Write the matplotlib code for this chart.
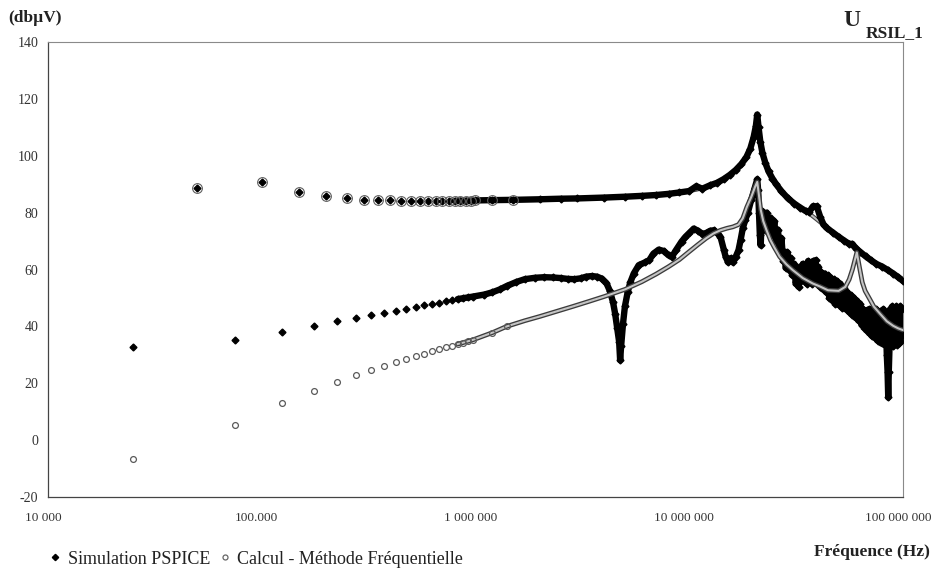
import numpy as np
import matplotlib
matplotlib.use("Agg")
import matplotlib.pyplot as plt
from matplotlib.lines import Line2D
from matplotlib.transforms import ScaledTranslation

plt.rcParams['font.family'] = ['Liberation Serif', 'DejaVu Serif']
plt.rcParams['axes.unicode_minus'] = False

# --- data (frequency in Hz, level in dBuV) ---

# upper curve: both methods lie on top of each other
upper_freq = [50e3, 100e3, 150e3, 200e3, 250e3, 300e3, 350e3, 400e3, 450e3, 500e3,
              550e3, 600e3, 650e3, 700e3, 750e3, 800e3, 850e3, 900e3, 950e3, 1000e3,
              1.2e6, 1.5e6, 2e6, 2.5e6, 3e6, 4e6, 5e6, 6e6, 7e6, 8e6, 9e6, 10e6,
              10.8e6, 11.5e6, 12.5e6, 13.5e6, 14.5e6, 15.5e6, 16.5e6, 17.5e6, 18.5e6,
              19.3e6, 20.0e6, 20.5e6, 20.8e6, 21.1e6, 21.5e6, 22.0e6, 22.7e6, 23.5e6,
              24.5e6, 25.5e6, 27e6, 29e6, 31e6, 33e6, 35e6, 36.5e6, 38e6, 39.5e6,
              41e6, 42.5e6, 44e6, 47e6, 50e6, 53e6, 56e6, 58e6, 60e6, 63e6, 67e6,
              71e6, 75e6, 80e6, 85e6, 90e6, 95e6, 100e6]
upper_calc = [88.7, 90.8, 87.1, 85.7, 85.0, 84.6, 84.4, 84.3, 84.2, 84.2,
              84.2, 84.1, 84.1, 84.1, 84.1, 84.1, 84.2, 84.2, 84.2, 84.3,
              84.4, 84.5, 84.7, 84.9, 85.0, 85.3, 85.6, 85.9, 86.2, 86.6, 87.1, 87.6,
              88.1, 88.6, 89.4, 90.5, 91.8, 93.3, 95.0, 97.0, 99.5,
              102.5, 106.5, 110.5, 114.0, 110.0, 105.0, 101.0, 97.5, 94.5,
              92.0, 90.0, 87.5, 85.0, 83.2, 81.8, 80.6, 79.6, 78.6, 77.6,
              76.6, 75.6, 74.6, 73.0, 71.5, 70.2, 69.0, 68.2, 67.4, 66.2, 64.6,
              63.2, 62.0, 61.0, 59.8, 58.6, 57.5, 56.5]
upper_spice = [88.7, 90.8, 87.1, 85.7, 85.0, 84.6, 84.4, 84.3, 84.2, 84.2,
               84.2, 84.1, 84.1, 84.1, 84.1, 84.1, 84.2, 84.2, 84.2, 84.3,
               84.4, 84.5, 84.7, 84.9, 85.0, 85.3, 85.6, 85.9, 86.2, 86.6, 87.1, 87.6,
               89.3, 88.4, 89.6, 90.5, 91.8, 93.3, 95.0, 97.0, 99.5,
               102.5, 106.5, 110.5, 114.5, 110.0, 105.0, 101.0, 97.5, 94.5,
               92.0, 90.0, 87.5, 85.0, 83.2, 81.8, 80.6, 80.4, 82.3, 82.2,
               78.5, 75.8, 74.6, 73.0, 71.5, 70.2, 69.0, 69.0, 67.4, 66.2, 64.6,
               63.2, 62.0, 61.0, 59.8, 58.6, 57.3, 56.0]

# lower curve, PSPICE simulation (above 22 MHz it is a noisy band,
# written here as alternating top / bottom readings)
lower_spice_freq = [25e3, 75e3, 125e3, 175e3, 225e3, 275e3, 325e3, 375e3, 425e3, 475e3,
                    525e3, 575e3, 625e3, 675e3, 725e3, 775e3, 825e3, 875e3, 925e3, 975e3,
                    1.1e6, 1.2e6, 1.3e6, 1.4e6, 1.55e6, 1.7e6, 1.9e6, 2.1e6, 2.3e6, 2.5e6,
                    2.7e6, 2.9e6, 3.1e6, 3.3e6, 3.5e6, 3.7e6, 3.9e6, 4.1e6, 4.25e6, 4.4e6,
                    4.5e6, 4.6e6, 4.7e6, 4.75e6, 4.8e6, 4.9e6, 5.0e6, 5.15e6, 5.3e6, 5.5e6,
                    5.8e6, 6.2e6, 6.5e6, 6.8e6, 7.2e6, 7.6e6, 8.0e6, 8.3e6, 8.7e6, 9.2e6,
                    9.6e6, 10.0e6, 10.5e6, 11.0e6, 11.5e6, 12.0e6, 12.5e6, 13.0e6, 13.5e6, 14.0e6,
                    14.5e6, 14.8e6, 15.2e6, 15.6e6, 16.0e6, 16.5e6, 17.0e6, 17.4e6, 17.8e6, 18.3e6,
                    18.8e6, 19.5e6, 20.2e6, 20.8e6, 21.0e6, 21.2e6, 21.4e6, 21.6e6, 21.8e6,
                    22.0e6, 22.5e6, 23.0e6, 23.5e6, 24.0e6, 24.5e6, 25.0e6, 25.5e6, 26.0e6, 26.5e6,
                    27.0e6, 27.5e6, 28.0e6, 28.3e6, 28.8e6, 29.3e6, 29.8e6, 30.3e6, 31.0e6, 31.5e6,
                    32.0e6, 32.5e6, 33.0e6, 33.5e6, 34.0e6, 34.5e6, 35.0e6, 35.5e6, 36.0e6, 36.5e6,
                    37.0e6, 37.5e6, 38.0e6, 38.5e6, 39.0e6, 39.6e6, 40.2e6, 40.8e6, 41.5e6, 42.2e6,
                    43.0e6, 43.7e6, 44.5e6, 45.2e6, 46.0e6, 46.8e6, 47.5e6, 48.3e6, 49.0e6, 50.0e6,
                    51.0e6, 52.0e6, 53.0e6, 54.0e6, 55.0e6, 56.0e6, 57.0e6, 58.0e6, 59.0e6, 60.0e6,
                    61.0e6, 62.0e6, 63.0e6, 64.0e6, 65.0e6, 66.0e6, 67.0e6, 68.0e6, 69.0e6, 70.0e6,
                    71.0e6, 72.0e6, 73.0e6, 74.0e6, 75.0e6, 76.0e6, 77.0e6, 78.0e6, 79.0e6, 80.0e6,
                    81.0e6, 82.0e6, 83.0e6, 84.0e6, 84.7e6, 85.3e6, 85.8e6, 86.5e6, 87.0e6, 88.0e6,
                    89.0e6, 90.0e6, 91.0e6, 92.0e6, 93.0e6, 94.0e6, 95.0e6, 96.0e6, 97.0e6, 98.0e6,
                    99.0e6, 100.0e6]
lower_spice = [32.7, 35.3, 38.1, 40.3, 42.0, 43.1, 44.1, 44.8, 45.4, 46.0,
               46.7, 47.4, 47.8, 48.3, 48.8, 49.2, 49.6, 49.9, 50.2, 50.5,
               51.2, 52.0, 53.0, 54.2, 55.6, 56.6, 57.1, 57.3, 57.2, 57.0,
               56.7, 56.6, 56.9, 57.5, 57.7, 57.5, 56.8, 55.2, 52.5, 48.5,
               44.5, 39.5, 34.5, 28.1, 33.0, 41.0, 47.0, 52.0, 55.5, 58.6,
               61.5, 62.5, 63.3, 65.6, 67.0, 66.5, 65.0, 64.5, 67.0, 69.8,
               71.5, 72.8, 74.4, 73.6, 72.6, 72.8, 73.6, 73.8, 73.0, 71.5,
               67.0, 64.5, 62.5, 64.0, 62.5, 64.5, 66.8, 70.5, 74.5, 77.5,
               80.0, 84.5, 88.5, 91.7, 88.0, 80.0, 72.0, 68.5, 78.0,
               80.5, 74.0, 80.0, 73.0, 78.0, 72.0, 77.0, 70.0, 74.0, 66.0,
               71.0, 63.0, 66.0, 60.5, 66.0, 60.0, 64.0, 58.0, 62.0, 55.0,
               59.0, 53.9, 61.0, 56.0, 62.0, 56.0, 61.0, 55.0, 63.0, 56.0,
               62.0, 55.0, 63.0, 56.0, 63.3, 55.0, 61.0, 54.0, 59.0, 53.0,
               58.6, 52.0, 58.0, 50.0, 57.0, 49.0, 56.5, 48.0, 56.0, 47.5,
               55.0, 46.5, 53.5, 46.0, 52.0, 45.0, 51.0, 44.0, 50.0, 43.0,
               49.0, 42.0, 48.0, 40.5, 46.0, 39.5, 45.5, 38.5, 46.0, 37.5,
               46.0, 36.5, 45.5, 36.0, 46.0, 35.0, 45.0, 34.5, 45.5, 34.0,
               46.0, 33.5, 44.0, 30.0, 24.0, 15.0, 24.0, 33.0, 46.0, 34.0,
               47.0, 33.0, 46.0, 34.0, 47.0, 33.5, 46.0, 34.0, 47.0, 35.0,
               46.0, 37.0]

# lower curve, frequency method
lower_calc_freq = [25e3, 75e3, 125e3, 175e3, 225e3, 275e3, 325e3, 375e3, 425e3, 475e3,
                   525e3, 575e3, 625e3, 675e3, 725e3, 775e3, 825e3, 875e3, 925e3, 975e3,
                   1.2e6, 1.4e6, 1.7e6, 2.0e6, 2.4e6, 2.85e6, 3.4e6, 4.0e6, 5.0e6, 6.0e6,
                   7e6, 8e6, 9e6, 10e6, 11e6, 12e6, 13e6, 14e6, 15e6, 16e6,
                   17.0e6, 17.8e6, 18.6e6, 19.5e6, 20.3e6, 20.8e6, 21.2e6, 21.6e6, 22.2e6, 23.0e6,
                   24e6, 25e6, 26.5e6, 28.5e6, 30.5e6, 34e6, 37.8e6, 41e6, 44.6e6, 50e6,
                   53.7e6, 56e6, 58e6, 60.8e6, 62.5e6, 64.5e6, 66.5e6, 70e6, 73e6, 78e6,
                   84e6, 90e6, 95e6, 100e6]
lower_calc = [-6.7, 5.5, 12.9, 17.3, 20.5, 22.9, 24.6, 26.0, 27.4, 28.6,
              29.5, 30.3, 31.2, 32.0, 32.6, 33.2, 33.8, 34.3, 34.8, 35.3,
              37.8, 40.0, 42.0, 43.5, 45.3, 47.0, 48.8, 50.5, 53.0, 55.7,
              58.4, 61.0, 63.5, 66.3, 68.8, 71.0, 72.7, 73.8, 74.5, 75.0,
              75.8, 78.0, 82.0, 85.5, 89.0, 90.8, 86.0, 81.0, 77.0, 73.8,
              70.3, 67.8, 64.5, 61.8, 59.8, 57.0, 55.1, 54.0, 52.7, 52.5,
              53.9, 56.5, 60.0, 66.0, 61.0, 55.5, 52.5, 49.5, 47.0, 44.5,
              41.8, 40.2, 39.3, 38.7]

y_ticks = [-20, 0, 20, 40, 60, 80, 100, 120, 140]
x_ticks = [1e4, 1e5, 1e6, 1e7, 1e8]
x_tick_labels = ['10 000', '100.000', '1 000 000', '10 000 000', '100 000 000']

# markers are resolved below this frequency, above it they merge into a band
LINE_FROM = 0.8e6
MARKERS_TO = 1.7e6


def split(freq, vals):
    f = np.array(freq)
    v = np.array(vals)
    dense = f >= LINE_FROM
    sparse = f < MARKERS_TO
    return f, v, dense, sparse


fig = plt.figure(figsize=(9.34, 5.74), dpi=100)
ax = fig.add_axes([0.0514, 0.1341, 0.9154, 0.7927])

# upper calc line sits under the simulation
f, v, dense, sparse = split(upper_freq, upper_calc)
ax.plot(f[dense], v[dense], color='#444444', lw=3.0, zorder=2, solid_capstyle='round')
ax.plot(f[dense], v[dense], color='#bdbdbd', lw=1.4, zorder=2)

# PSPICE series: thick black band + diamonds
for freq, vals in [(upper_freq, upper_spice), (lower_spice_freq, lower_spice)]:
    f, v, dense, sparse = split(freq, vals)
    ax.plot(f[dense], v[dense], color='black', lw=4.6, zorder=3,
            solid_joinstyle='round', solid_capstyle='round')
    ax.plot(f, v, ls='none', marker='D', ms=3.5, color='black', zorder=4)

# lower calc line drawn over the simulation noise
f, v, dense, sparse = split(lower_calc_freq, lower_calc)
ax.plot(f[dense], v[dense], color='#3c3c3c', lw=3.4, zorder=5, solid_capstyle='round')
ax.plot(f[dense], v[dense], color='#c4c4c4', lw=1.5, zorder=5)

# open circles of the frequency method (ring round the diamonds on the upper curve)
f, v, dense, sparse = split(upper_freq, upper_calc)
ax.plot(f[sparse], v[sparse], ls='none', marker='o', ms=7.0, mfc='none',
        mec='#5e5e5e', mew=0.8, zorder=6)
f, v, dense, sparse = split(lower_calc_freq, lower_calc)
ax.plot(f[sparse], v[sparse], ls='none', marker='o', ms=4.2, mfc='none',
        mec='#5a5a5a', mew=0.9, zorder=6)

ax.set_xscale('log')
ax.set_xlim(1e4, 1e8)
ax.set_ylim(-20, 140)
ax.set_yticks(y_ticks)
ax.set_xticks(x_ticks)
ax.set_xticklabels(x_tick_labels)
ax.minorticks_off()
ax.tick_params(axis='y', length=0, pad=7, labelsize=10, colors='#333333')
ax.tick_params(axis='x', length=0, pad=11, labelsize=9.5, colors='#333333')

# excel put the x labels a few pixels left of the gridline
shift = ScaledTranslation(-0.05, 0, fig.dpi_scale_trans)
for lab in ax.get_xticklabels():
    lab.set_transform(lab.get_transform() + shift)

for side in ['left', 'bottom']:
    ax.spines[side].set_color('#444444')
    ax.spines[side].set_linewidth(0.9)
for side in ['top', 'right']:
    ax.spines[side].set_color('#8a8a8a')
    ax.spines[side].set_linewidth(0.8)

W, H = 934.0, 574.0
fig.text(8 / W, 1 - 18 / H, '(dbµV)', fontsize=12.5, fontweight='bold',
         ha='left', va='center', color='#222222')
fig.text(843 / W, 1 - 20 / H, 'U', fontsize=17, fontweight='bold',
         ha='left', va='center', color='#222222')
fig.text(866 / W, 1 - 33 / H, 'RSIL_1', fontsize=12.5, fontweight='bold',
         ha='left', va='center', color='#222222')
fig.text(930 / W, 1 - 552 / H, 'Fréquence (Hz)', fontsize=12.5, fontweight='bold',
         ha='right', va='center', color='#222222')

handles = [
    Line2D([], [], ls='none', marker='D', ms=3.2, color='black'),
    Line2D([], [], ls='none', marker='o', ms=3.6, mfc='none', mec='#666666', mew=0.9),
]
fig.legend(handles, ['Simulation PSPICE', 'Calcul - Méthode Fréquentielle'],
           loc='center left', bbox_to_anchor=(42.6 / W, 1 - 559 / H),
           ncol=2, frameon=False, fontsize=13, handlelength=0.6,
           handletextpad=0.4, columnspacing=0.5, borderaxespad=0,
           labelcolor='#222222')

fig.savefig('out.png', dpi=100, facecolor='white')
